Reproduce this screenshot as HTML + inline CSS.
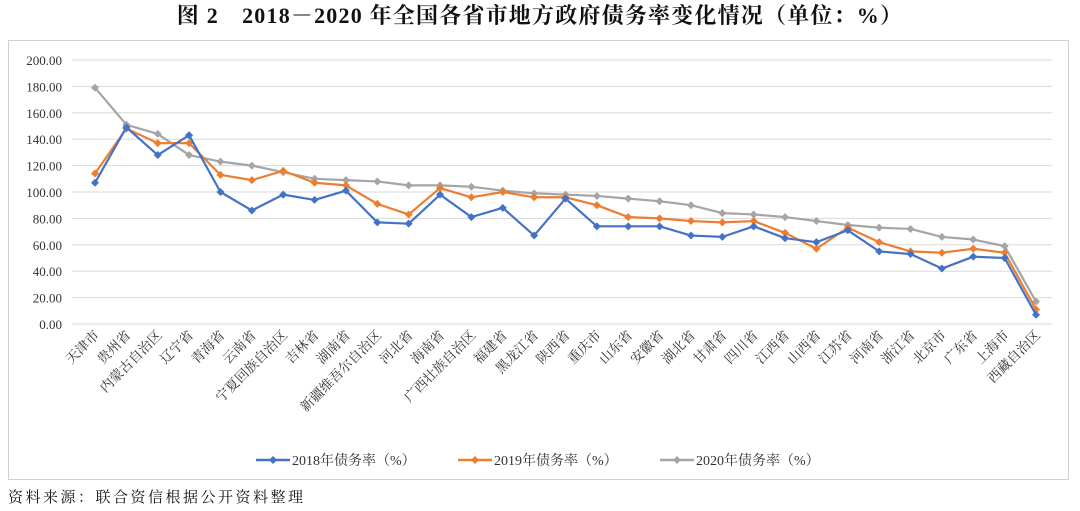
<!DOCTYPE html>
<html><head><meta charset="utf-8"><style>
body{margin:0;background:#fff;width:1080px;height:511px;overflow:hidden}
svg{display:block}
text{font-family:"Liberation Serif","Noto Serif CJK SC",serif}
</style></head><body>
<svg id="s" width="1080" height="511" xmlns="http://www.w3.org/2000/svg">
<text x="540" y="23" text-anchor="middle" font-size="22" font-weight="bold" fill="#111" letter-spacing="1.2">图 2　2018－2020 年全国各省市地方政府债务率变化情况（单位：%）</text>
<rect x="8.5" y="40.5" width="1060" height="439" fill="none" stroke="#d0d0d0"/>
<text x="8" y="502" font-size="15" fill="#111" letter-spacing="2.5">资料来源：联合资信根据公开资料整理</text>
</svg>
<script>
const s=document.getElementById('s');const NS='http://www.w3.org/2000/svg';
function el(t,a,txt){const e=document.createElementNS(NS,t);for(const k in a)e.setAttribute(k,a[k]);if(txt!=null)e.textContent=txt;s.appendChild(e);return e;}
const names=["天津市","贵州省","内蒙古自治区","辽宁省","青海省","云南省","宁夏回族自治区","吉林省","湖南省","新疆维吾尔自治区","河北省","海南省","广西壮族自治区","福建省","黑龙江省","陕西省","重庆市","山东省","安徽省","湖北省","甘肃省","四川省","江西省","山西省","江苏省","河南省","浙江省","北京市","广东省","上海市","西藏自治区"];
const d18=[107,149,128,143,100,86,98,94,101,77,76,98,81,88,67,95,74,74,74,67,66,74,65,62,71,55,53,42,51,50,7];
const d19=[114,148,137,137,113,109,116,107,105,91,83,103,96,100,96,96,90,81,80,78,77,78,69,57,73,62,55,54,57,54,11];
const d20=[179,151,144,128,123,120,115,110,109,108,105,105,104,101,99,98,97,95,93,90,84,83,81,78,75,73,72,66,64,59,17];
const y0=324,k=1.32,x0=95,dx=(1036-95)/30;
const Y=v=>y0-v*k,X=i=>x0+i*dx;
for(let v=0;v<=200;v+=20){el('line',{x1:72,x2:1052,y1:Y(v),y2:Y(v),stroke:'#d9d9d9'});
el('text',{x:62,y:Y(v)+5,'text-anchor':'end','font-size':13,fill:'#333'},v.toFixed(2));}
names.forEach((n,i)=>{const x=X(i)+5,y=336;el('text',{x:x,y:y,'text-anchor':'end','font-size':13.5,fill:'#333',transform:`rotate(-45 ${x} ${y})`},n);});
function series(d,c){el('polyline',{points:d.map((v,i)=>X(i)+','+Y(v)).join(' '),fill:'none',stroke:c,'stroke-width':2.2,'stroke-linejoin':'round'});
d.forEach((v,i)=>el('path',{d:`M${X(i)} ${Y(v)-4}l4 4l-4 4l-4 -4z`,fill:c}));}
series(d20,'#a5a5a5');series(d19,'#ed7d31');series(d18,'#4472c4');
[['#4472c4','2018年债务率（%）',256],['#ed7d31','2019年债务率（%）',458],['#a5a5a5','2020年债务率（%）',660]].forEach(([c,t,x])=>{
el('line',{x1:x,x2:x+34,y1:460,y2:460,stroke:c,'stroke-width':2.5});
el('path',{d:`M${x+17} 456l4 4l-4 4l-4 -4z`,fill:c});
el('text',{x:x+36,y:465,'font-size':14,fill:'#333'},t);});
</script>
</body></html>
